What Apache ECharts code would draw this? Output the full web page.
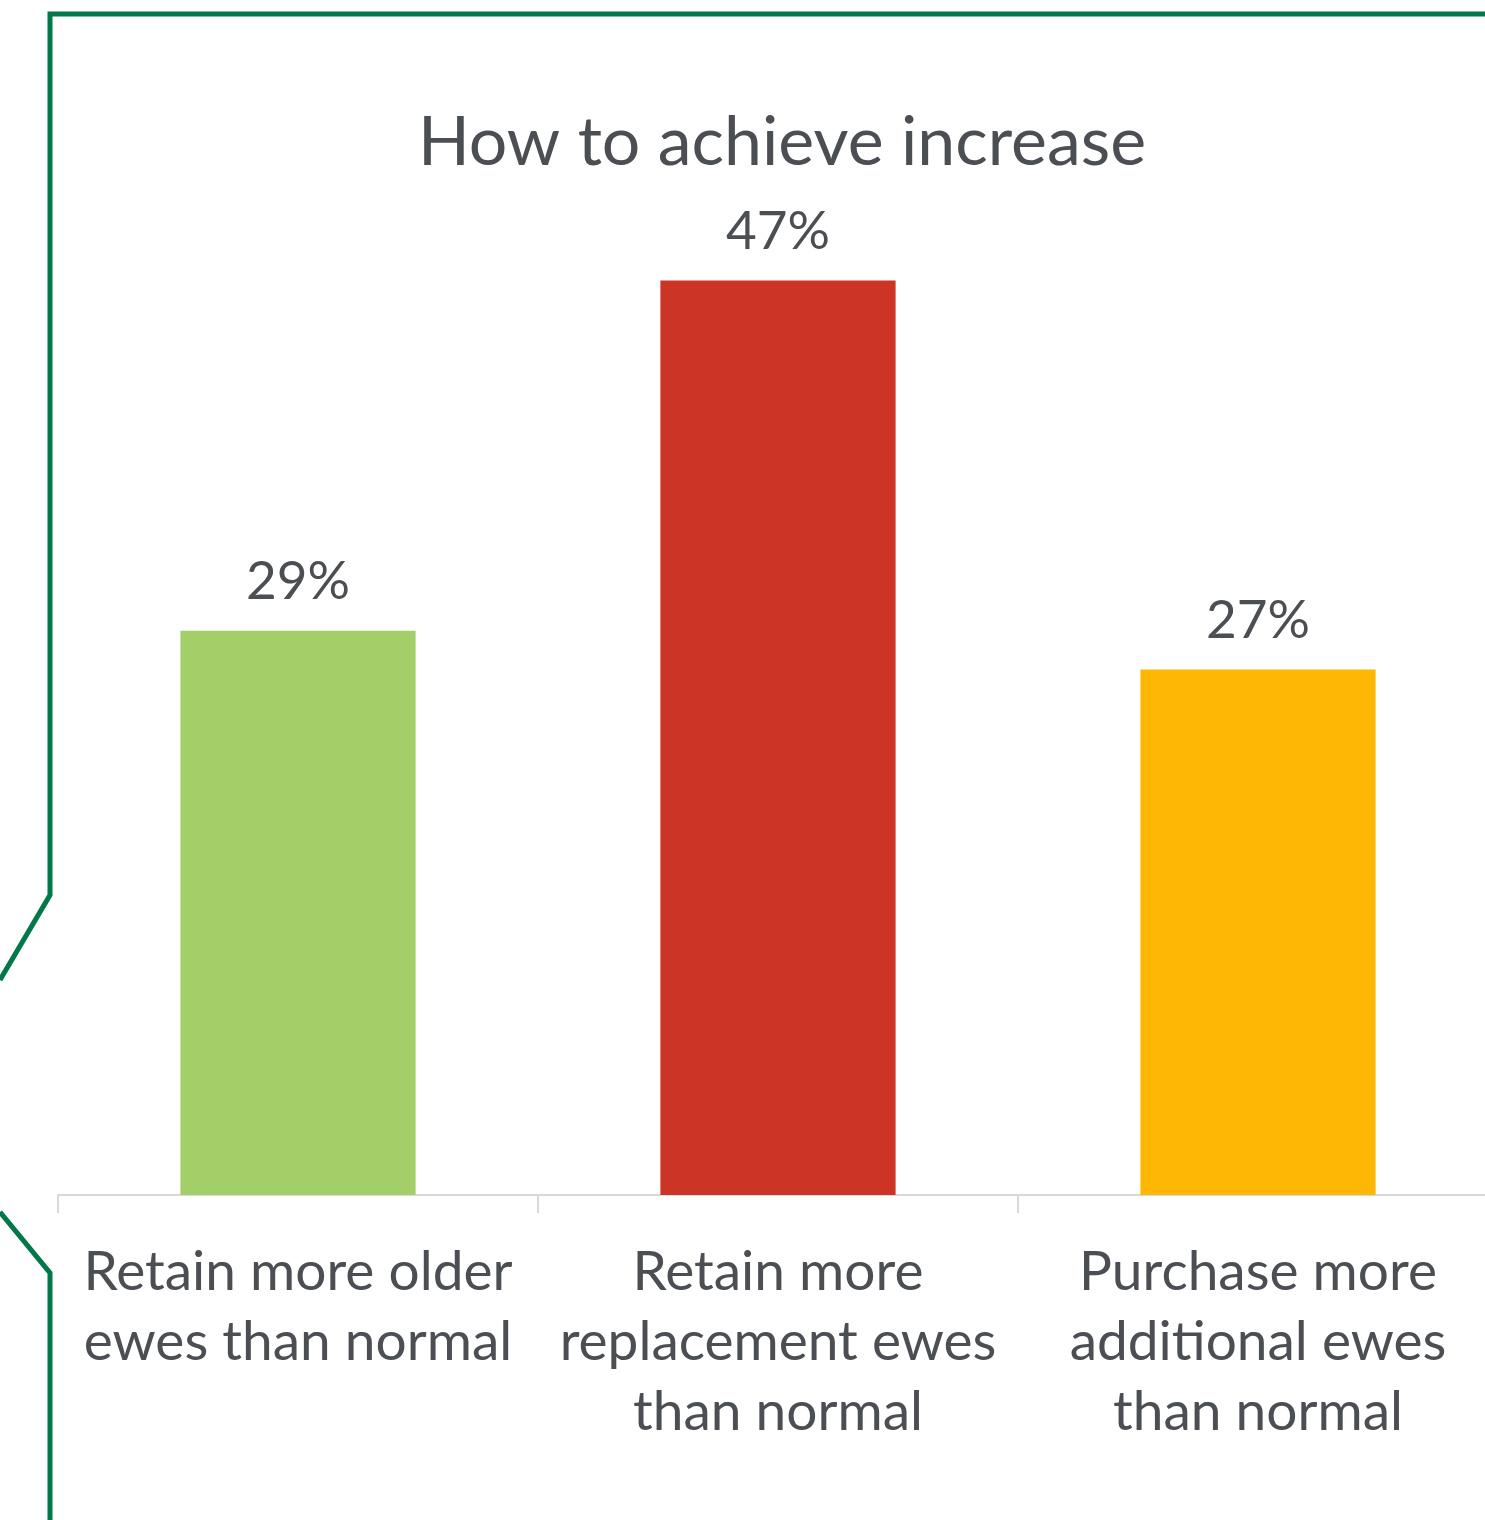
<!DOCTYPE html>
<html>
<head>
<meta charset="utf-8">
<script src="https://cdn.jsdelivr.net/npm/echarts@6/dist/echarts.min.js"></script>
<style>
  html, body { margin: 0; padding: 0; background: #ffffff; }
  #chart { width: 1485px; height: 1520px; }
</style>
</head>
<body>
<div id="chart"></div>
<script>
// Survey answers: how flocks plan to achieve the increase
const categories = [
  'Retain more older\newes than normal',
  'Retain more\nreplacement ewes\nthan normal',
  'Purchase more\nadditional ewes\nthan normal'
];
const shares = [29, 47, 27];
const barColors = ['#a2cf68', '#cc3425', '#fdb704'];

const textColor = '#4b4e53';
const fontFamily = 'Lato, "Open Sans", sans-serif';

const chart = echarts.init(document.getElementById('chart'), null, { renderer: 'canvas' });

chart.setOption({
  backgroundColor: '#ffffff',
  animation: false,
  title: {
    text: 'How to achieve increase',
    left: 777,
    textAlign: 'center',
    top: 104,
    textStyle: { color: textColor, fontSize: 68, fontWeight: 'normal', fontFamily: fontFamily }
  },
  grid: { left: 58, width: 1440, top: 222, height: 973, outerBoundsMode: 'none', containLabel: false },
  xAxis: {
    type: 'category',
    data: categories,
    axisLine: { lineStyle: { color: '#d9d9d9', width: 2 } },
    axisTick: { show: true, length: 18, lineStyle: { color: '#d9d9d9', width: 2 } },
    axisLabel: {
      color: textColor,
      fontSize: 55,
      fontFamily: fontFamily,
      lineHeight: 70,
      margin: 42,
      interval: 0
    }
  },
  yAxis: {
    type: 'value',
    min: 0,
    max: 50,
    show: false,
    splitLine: { show: false }
  },
  series: [{
    type: 'bar',
    barWidth: '49%',
    data: shares.map((v, i) => ({ value: v, itemStyle: { color: barColors[i] } })),
    label: {
      show: true,
      position: 'top',
      distance: 22,
      formatter: '{c}%',
      color: textColor,
      fontSize: 53,
      fontFamily: fontFamily
    }
  }],
  graphic: [
    {
      type: 'polyline',
      shape: { points: [[0, 980], [50, 895], [50, 14], [1490, 14]] },
      style: { stroke: '#007849', lineWidth: 5, fill: null }
    },
    {
      type: 'polyline',
      shape: { points: [[0, 1212], [50, 1273], [50, 1525]] },
      style: { stroke: '#007849', lineWidth: 5, fill: null }
    }
  ]
});
</script>
</body>
</html>
